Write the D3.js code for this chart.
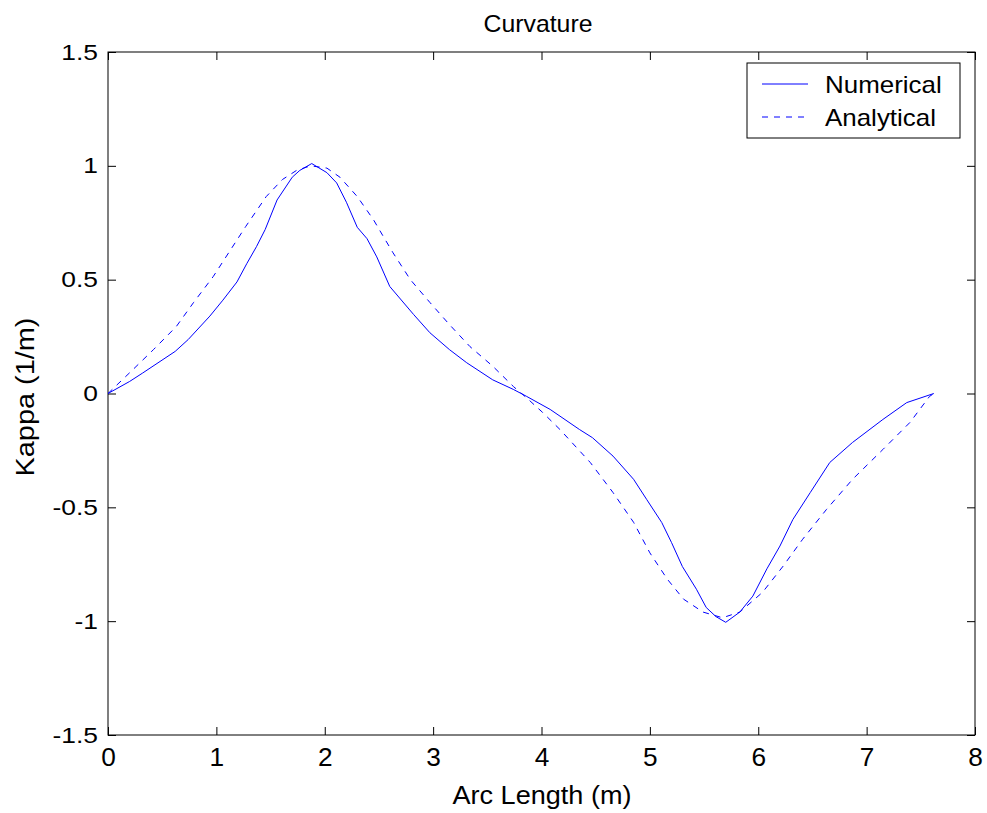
<!DOCTYPE html>
<html>
<head>
<meta charset="utf-8">
<script src="https://cdn.jsdelivr.net/npm/d3@7"></script>
<style>
  body { margin: 0; background: #fff; }
  text { font-family: "Liberation Sans", Arial, sans-serif; fill: #000; }
</style>
</head>
<body>
<svg id="chart" width="987" height="813"></svg>
<script>
// arc length (m) / curvature (1/m)
const numX = [0, 0.2, 0.32, 0.62, 0.74, 0.94, 1.06, 1.19, 1.28, 1.37, 1.45, 1.56, 1.70, 1.77, 1.88, 2.02, 2.11, 2.20, 2.30, 2.39, 2.48, 2.60, 2.82, 2.97, 3.15, 3.31, 3.55, 3.74, 3.86, 4.08, 4.35, 4.47, 4.66, 4.85, 4.97, 5.11, 5.20, 5.30, 5.43, 5.52, 5.61, 5.70, 5.83, 5.95, 6.08, 6.20, 6.32, 6.48, 6.66, 6.87, 7.15, 7.37, 7.62];
const numY = [0, 0.053, 0.09, 0.185, 0.237, 0.34, 0.41, 0.49, 0.57, 0.645, 0.72, 0.85, 0.95, 0.98, 1.01, 0.97, 0.925, 0.84, 0.73, 0.68, 0.60, 0.47, 0.347, 0.267, 0.193, 0.135, 0.06, 0.018, -0.012, -0.07, -0.158, -0.194, -0.275, -0.377, -0.465, -0.567, -0.655, -0.76, -0.86, -0.94, -0.98, -1.005, -0.96, -0.89, -0.77, -0.67, -0.553, -0.435, -0.303, -0.215, -0.114, -0.04, 0];

const anaX = [0, 0.23, 0.42, 0.63, 0.79, 0.97, 1.12, 1.27, 1.46, 1.61, 1.74, 1.87, 2.02, 2.14, 2.30, 2.45, 2.54, 2.63, 2.79, 2.97, 3.15, 3.34, 3.55, 3.74, 3.86, 4.01, 4.17, 4.45, 4.66, 4.85, 5.0, 5.16, 5.31, 5.49, 5.67, 5.83, 6.04, 6.23, 6.41, 6.63, 6.87, 7.15, 7.40, 7.58, 7.62];
const anaY = [0, 0.105, 0.193, 0.294, 0.40, 0.513, 0.623, 0.733, 0.865, 0.94, 0.98, 1.0, 0.99, 0.95, 0.865, 0.763, 0.69, 0.618, 0.50, 0.40, 0.303, 0.206, 0.12, 0.031, -0.018, -0.083, -0.158, -0.303, -0.435, -0.566, -0.70, -0.815, -0.903, -0.96, -0.985, -0.96, -0.873, -0.758, -0.64, -0.509, -0.377, -0.246, -0.127, -0.013, 0];

const xTicks = [0, 1, 2, 3, 4, 5, 6, 7, 8];
const yTicks = [-1.5, -1, -0.5, 0, 0.5, 1, 1.5];
const seriesNames = ["Numerical", "Analytical"];

const svg = d3.select("#chart");
const margin = { left: 108, right: 12, top: 52, bottom: 78 };
const W = 987, H = 813;
const w = W - margin.left - margin.right;
const h = H - margin.top - margin.bottom;

const x = d3.scaleLinear().domain([0, 8]).range([0, w]);
const y = d3.scaleLinear().domain([-1.5, 1.5]).range([h, 0]);

const g = svg.append("g").attr("transform", "translate(" + margin.left + "," + margin.top + ")");

// box
g.append("rect").attr("width", w).attr("height", h)
  .attr("fill", "none").attr("stroke", "#000").attr("stroke-width", 1);

const fmt = d => String(d);

// the source font is drawn wider than Liberation Sans, stretch a bit
function widen(sel, k) {
  sel.each(function () {
    const len = this.getComputedTextLength();
    d3.select(this).attr("textLength", len * k).attr("lengthAdjust", "spacingAndGlyphs");
  });
}

// axes, ticks pointing inward
g.append("g").attr("transform", "translate(0," + h + ")")
  .call(d3.axisBottom(x).tickValues(xTicks).tickSizeInner(-8).tickSizeOuter(0).tickPadding(13).tickFormat(fmt))
  .call(a => a.select(".domain").remove())
  .call(a => a.selectAll("text").attr("font-size", 25).attr("font-family", "Liberation Sans, Arial, sans-serif"))
  .call(a => widen(a.selectAll("text"), 1.05));
g.append("g")
  .call(d3.axisTop(x).tickValues(xTicks).tickSizeInner(-8).tickSizeOuter(0).tickFormat(""))
  .call(a => a.select(".domain").remove());
g.append("g")
  .call(d3.axisLeft(y).tickValues(yTicks).tickSizeInner(-8).tickSizeOuter(0).tickPadding(10).tickFormat(fmt))
  .call(a => a.select(".domain").remove())
  .call(a => a.selectAll("text").attr("font-size", 22).attr("font-family", "Liberation Sans, Arial, sans-serif"))
  .call(a => widen(a.selectAll("text"), 1.2));
g.append("g").attr("transform", "translate(" + w + ",0)")
  .call(d3.axisRight(y).tickValues(yTicks).tickSizeInner(-8).tickSizeOuter(0).tickFormat(""))
  .call(a => a.select(".domain").remove());

const line = d3.line().x(d => x(d[0])).y(d => y(d[1]));

g.append("path").datum(d3.zip(numX, numY))
  .attr("d", line).attr("fill", "none").attr("stroke", "#0000ff").attr("stroke-width", 1);
g.append("path").datum(d3.zip(anaX, anaY))
  .attr("d", line).attr("fill", "none").attr("stroke", "#0000ff").attr("stroke-width", 1)
  .attr("stroke-dasharray", "6,6");

// titles
svg.append("text").attr("x", 538).attr("y", 32)
  .attr("text-anchor", "middle").attr("font-size", 24)
  .attr("textLength", 109).attr("lengthAdjust", "spacingAndGlyphs").text("Curvature");
svg.append("text").attr("x", 542).attr("y", 804)
  .attr("text-anchor", "middle").attr("font-size", 26)
  .attr("textLength", 179).attr("lengthAdjust", "spacingAndGlyphs").text("Arc Length (m)");
svg.append("text").attr("transform", "translate(34,397) rotate(-90)")
  .attr("text-anchor", "middle").attr("font-size", 26)
  .attr("textLength", 159).attr("lengthAdjust", "spacingAndGlyphs").text("Kappa (1/m)");

// legend
const lg = svg.append("g").attr("transform", "translate(747,63)");
lg.append("rect").attr("width", 213).attr("height", 75)
  .attr("fill", "#fff").attr("stroke", "#000").attr("stroke-width", 1);
seriesNames.forEach((name, i) => {
  const ly = 21 + i * 33;
  lg.append("line").attr("x1", 15).attr("x2", 61).attr("y1", ly).attr("y2", ly)
    .attr("stroke", "#0000ff").attr("stroke-width", 1)
    .attr("stroke-dasharray", i === 1 ? "6,6" : null);
  lg.append("text").attr("x", 78).attr("y", ly + 9).attr("font-size", 24)
    .call(t => t.text(name))
    .call(t => widen(t, 1.08));
});
</script>
</body>
</html>
